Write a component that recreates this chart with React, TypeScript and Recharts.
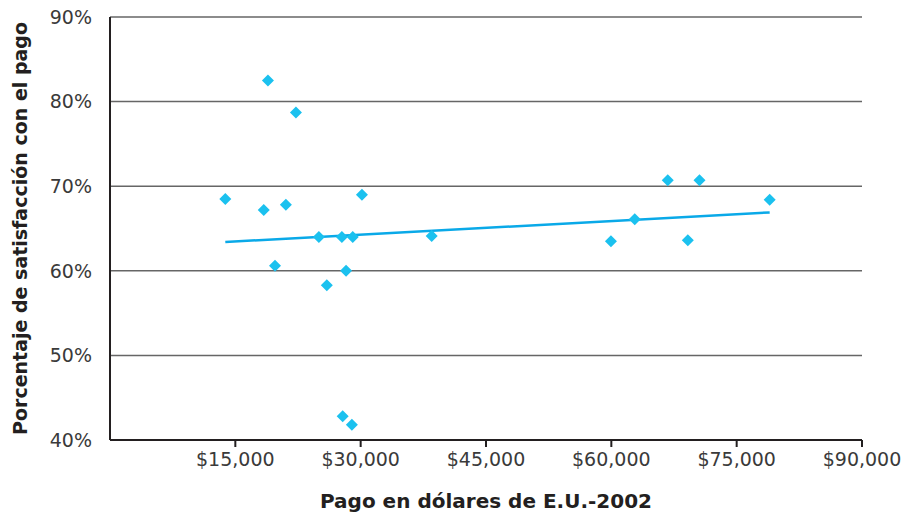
import React from "react";
import { ComposedChart, Scatter, XAxis, YAxis, CartesianGrid, Label } from "recharts";

const pay = [13800, 18900, 22250, 18400, 21050, 19750, 25000, 25950, 27750, 29050, 28250, 30150, 27850, 28950, 38500, 59950, 62800, 66750, 70550, 69150, 78950];
const satisfaction = [68.5, 82.5, 78.7, 67.2, 67.8, 60.6, 64.0, 58.3, 64.0, 64.0, 60.0, 69.0, 42.8, 41.8, 64.1, 63.5, 66.1, 70.7, 70.7, 63.6, 68.4];

const trendPay = [13800, 78950];
const trendSatisfaction = [63.4, 66.9];

const xTicks = [15000, 30000, 45000, 60000, 75000, 90000];
const yTicks = [40, 50, 60, 70, 80, 90];

const points = pay.map((x, i) => ({ x, y: satisfaction[i] }));
const trend = trendPay.map((x, i) => ({ x, y: trendSatisfaction[i] }));

const FONT = "'DejaVu Sans', sans-serif";

const Diamond = (props: any) => {
  const { cx, cy } = props;
  const r = 6;
  return <path d={`M${cx},${cy - r} L${cx + r},${cy} L${cx},${cy + r} L${cx - r},${cy} Z`} fill="#1bc1ef" />;
};

export default function App() {
  return (
    <div style={{ position: "absolute", left: 0, top: 0, background: "#fff" }}>
      <ComposedChart width={916} height={518} margin={{ top: 17, right: 54, left: 0, bottom: 0 }}>
        <CartesianGrid horizontal vertical={false} stroke="#666" strokeWidth={1.5} />
        <XAxis
          type="number"
          dataKey="x"
          domain={[0, 90000]}
          ticks={xTicks}
          height={78}
          stroke="#231f20"
          strokeWidth={2}
          tickSize={7}
          tickMargin={6}
          tick={{ fill: "#3a3a3a", fontSize: 19, fontFamily: FONT }}
          tickFormatter={(v: number) => "$" + v.toLocaleString("en-US")}
        >
          <Label value="Pago en dólares de E.U.-2002" position="insideBottom" offset={10} style={{ fill: "#231f20", fontSize: 20, fontWeight: 700, fontFamily: FONT }} />
        </XAxis>
        <YAxis
          type="number"
          dataKey="y"
          domain={[40, 90]}
          ticks={yTicks}
          width={110}
          stroke="#231f20"
          strokeWidth={2}
          tickLine={false}
          tickMargin={12}
          tick={{ fill: "#3a3a3a", fontSize: 19, fontFamily: FONT }}
          tickFormatter={(v: number) => v + "%"}
        >
          <Label value="Porcentaje de satisfacción con el pago" angle={-90} position="insideLeft" offset={20} style={{ textAnchor: "middle", fill: "#231f20", fontSize: 19, fontWeight: 700, fontFamily: FONT }} />
        </YAxis>
        <Scatter data={trend} line={{ stroke: "#0aa9e8", strokeWidth: 2.5 }} shape={() => <g />} isAnimationActive={false} />
        <Scatter data={points} shape={Diamond} isAnimationActive={false} />
      </ComposedChart>
    </div>
  );
}
